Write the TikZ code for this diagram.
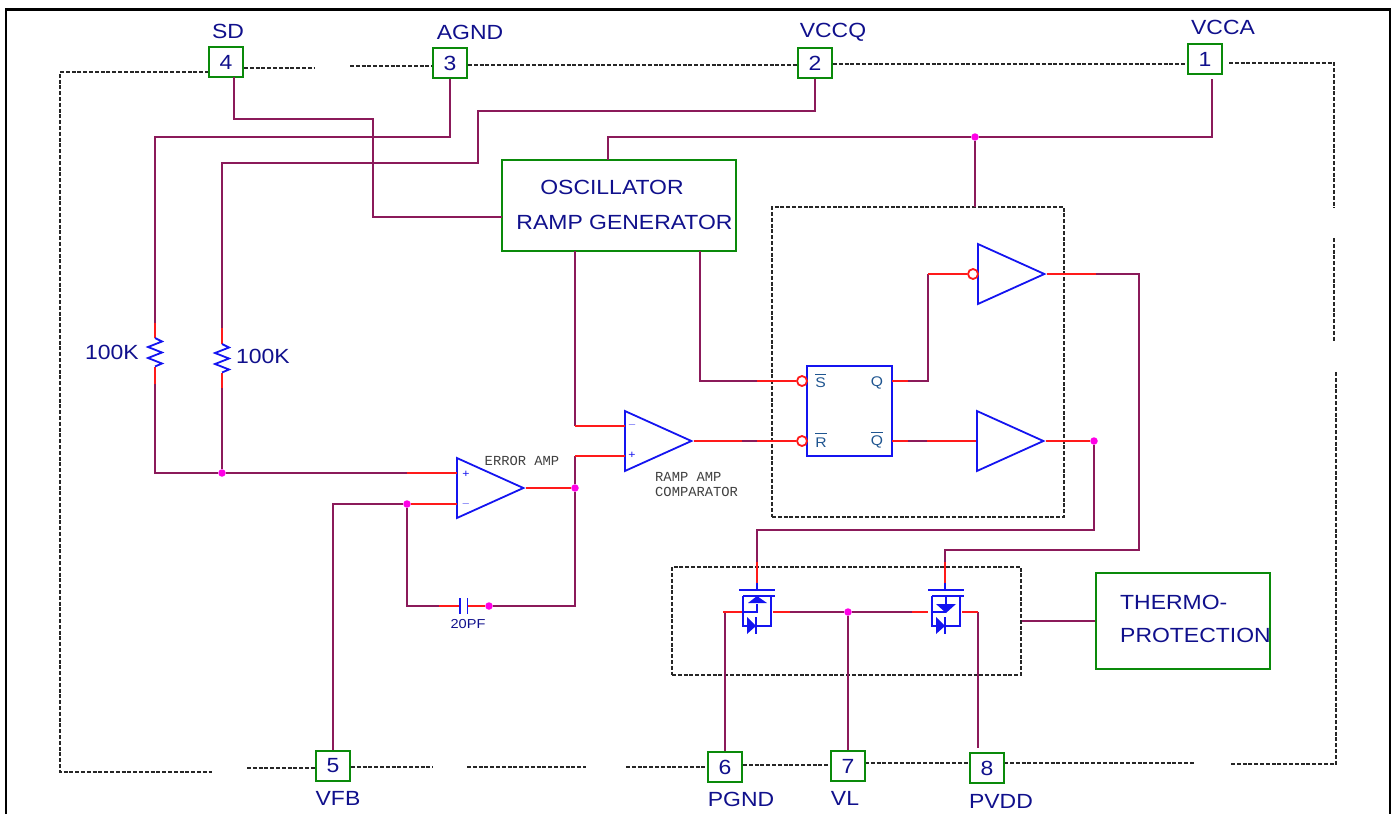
\documentclass[tikz,border=0pt]{standalone}
\usepackage{fontspec}
\usetikzlibrary{shapes.geometric}
\newfontfamily\labelfont[FakeStretch=1.12]{Liberation Sans}
\newfontfamily\notefont{Liberation Mono}
\definecolor{wirecol}{HTML}{8B1A5A}
\definecolor{stubcol}{HTML}{FF1A1A}
\definecolor{symcol}{HTML}{1414F0}
\definecolor{boxcol}{HTML}{0A8A0A}
\definecolor{navytext}{HTML}{10108C}
\definecolor{ffcol}{HTML}{1F5590}
\definecolor{dotcol}{HTML}{FF00E6}
\tikzset{
  wire/.style={draw=wirecol, line width=1.8pt},
  stub/.style={draw=stubcol, line width=1.8pt},
  fet/.style={draw=symcol, line width=1.8pt},
  outline/.style={draw=black!85, line width=1.4pt, dash pattern=on 4pt off 1.8pt},
  dashbox/.style={outline, rectangle, inner sep=0pt},
  pinbox/.style={rectangle, draw=boxcol, line width=1.8pt, fill=white, minimum width=34pt, minimum height=30pt, inner sep=0pt, text=navytext, font=\labelfont\fontsize{20.5}{24}\selectfont},
  blockbox/.style={rectangle, draw=boxcol, line width=1.8pt, inner sep=0pt},
  amptri/.style={isosceles triangle, isosceles triangle stretches, draw=symcol, line width=1.8pt, fill=white, inner sep=0pt, minimum width=60pt, minimum height=66.5pt, anchor=lower side},
  bubble/.style={circle, draw=stubcol, line width=1.8pt, fill=white, inner sep=0pt, minimum size=10pt},
  dot/.style={circle, fill=dotcol, inner sep=0pt, minimum size=7.5pt},
  lab/.style={text=navytext, inner sep=0pt, font=\labelfont\fontsize{20.5}{24}\selectfont},
  smallsym/.style={text=symcol, inner sep=0pt, font=\labelfont\fontsize{11}{13}\selectfont},
  fflab/.style={text=ffcol, inner sep=0pt, font=\labelfont\fontsize{14}{16}\selectfont},
  note/.style={text=black!75, inner sep=0pt, anchor=west, font=\notefont\fontsize{13.8}{15}\selectfont}
}
\begin{document}
\begin{tikzpicture}[x=1pt, y=-1pt]
\useasboundingbox (0,0) rectangle (1394,814);
\draw[line width=2.6pt] (6,814) -- (6,9.5) -- (1390,9.5) -- (1390,814);
% package outline
\draw[outline] (209,72) -- (60,72) -- (60,772) -- (212,772);
\draw[outline] (244,68) -- (314,68);
\draw[outline] (350,66) -- (433,66);
\draw[outline] (468,65) -- (798,65);
\draw[outline] (833,64) -- (1187,64);
\draw[outline] (1229,63) -- (1334,63) -- (1334,208);
\draw[outline] (1334,238) -- (1334,342);
\draw[outline] (1336,372) -- (1336,764) -- (1231,764);
\draw[outline] (247,768) -- (316,768);
\draw[outline] (351,767) -- (433,767);
\draw[outline] (467,767) -- (586,767);
\draw[outline] (626,767) -- (708,767);
\draw[outline] (743,765) -- (830,765);
\draw[outline] (865,763) -- (1194,763);
% pins
\node[pinbox] (pin4) at (226,62) {4};
\node[pinbox] (pin3) at (450,63) {3};
\node[pinbox] (pin2) at (815,63) {2};
\node[pinbox] (pin1) at (1205,59) {1};
\node[pinbox] (pin5) at (333,766) {5};
\node[pinbox] (pin6) at (725,767) {6};
\node[pinbox] (pin7) at (848,766) {7};
\node[pinbox] (pin8) at (987,768) {8};
\node[lab] (sdlab) at (228,31) {SD};
\node[lab] (agndlab) at (470,32) {AGND};
\node[lab] (vccqlab) at (833,32) {VCCQ};
\node[lab] (vccalab) at (1223,27) {VCCA};
\node[lab] (vfblab) at (338,798) {VFB};
\node[lab] (pgndlab) at (741,799) {PGND};
\node[lab] (vllab) at (845,798) {VL};
\node[lab] (pvddlab) at (1001,801) {PVDD};
% blocks
\node[blockbox, minimum width=234pt, minimum height=91pt] (osc) at (619,205.5) {};
\node[lab] (osclab) at (612,187) {OSCILLATOR};
\node[lab] (ramplab) at (624.5,222) {RAMP GENERATOR};
\node[blockbox, minimum width=174pt, minimum height=96pt] (thermo) at (1183,621) {};
\node[lab, anchor=west] (thermolab) at (1120,602) {THERMO-};
\node[lab, anchor=west] (protlab) at (1120,635) {PROTECTION};
\node[dashbox, minimum width=292pt, minimum height=310pt] (ctrlbox) at (918,362) {};
\node[dashbox, minimum width=349pt, minimum height=108pt] (fetbox) at (846.5,621) {};
\node[rectangle, draw=symcol, line width=1.8pt, minimum width=85pt, minimum height=90pt, inner sep=0pt] (ff) at (849.5,411) {};
\node[fflab] (slab) at (820.5,381) {$\overline{\hbox{S\rule{0pt}{12pt}}}$};
\node[fflab] (qlab) at (877,383) {Q};
\node[fflab] (rlab) at (821,440) {$\overline{\hbox{R\rule{0pt}{12pt}}}$};
\node[fflab] (qnlab) at (877,440) {$\overline{\hbox{Q\rule{0pt}{12pt}}}$};
\node[amptri] (eamp) at (456,488) {};
\node[amptri] (cmp) at (624,441) {};
\node[amptri] (hibuf) at (977,274) {};
\node[amptri] (lobuf) at (976,441) {};
\node[smallsym] (eaplus) at (466,474) {+};
\node[smallsym] (eaminus) at (466,504) {$-$};
\node[smallsym] (cmpminus) at (632,425) {$-$};
\node[smallsym] (cmpplus) at (632,455) {+};
\node[note, anchor=center] (ealab) at (522,461) {ERROR AMP};
\node[note] (cmplab) at (655,477) {RAMP AMP};
\node[note] (cmplabb) at (655,492) {COMPARATOR};
\node[lab, font=\labelfont\fontsize{13}{15}\selectfont] (caplab) at (468,624) {20PF};
\node[lab] (r1lab) at (112,352) {100K};
\node[lab] (r2lab) at (263,356) {100K};
\node[bubble] (sbub) at (802,381) {};
\node[bubble] (rbub) at (802,441) {};
\node[bubble] (hibub) at (973,274) {};
\node[dot] (vccdot) at (975,137) {};
\node[dot] (sumdot) at (222,473) {};
\node[dot] (fbdot) at (407,504) {};
\node[dot] (eadot) at (575,488) {};
\node[dot] (capdot) at (489,606) {};
\node[dot] (lsdot) at (1094,441) {};
\node[dot] (vldot) at (848,612) {};
% connection points
\coordinate (sdtop) at (234,77);
\coordinate (sdjog) at (373,119);
\coordinate (oscsd) at (502,217);
\coordinate (agndjog) at (155,137);
\coordinate (vqa) at (478,111);
\coordinate (vqb) at (222,163);
\coordinate (r1top) at (155,338);
\coordinate (r1bot) at (155,366.5);
\coordinate (r2top) at (222,344);
\coordinate (r2bot) at (222,372.5);
\coordinate (vcctop) at (1212,79);
\coordinate (oscfeed) at (608,160);
\coordinate (ctrlfeed) at (975,207);
\coordinate (oscramp) at (575,251);
\coordinate (cmpmb) at (575,426);
\coordinate (cmpm) at (625,426);
\coordinate (cmppb) at (575,456);
\coordinate (cmpp) at (625,456);
\coordinate (eap) at (457,473);
\coordinate (eam) at (457,504);
\coordinate (capl) at (460,606);
\coordinate (capr) at (467.5,606);
\coordinate (capw) at (439,606);
\coordinate (oscset) at (700,251);
\coordinate (sstub) at (757,381);
\coordinate (cmpw) at (742,441);
\coordinate (rstub) at (757,441);
\coordinate (qout) at (892,381);
\coordinate (qw) at (908,381);
\coordinate (qbend) at (928,274);
\coordinate (qnout) at (892,441);
\coordinate (qnw) at (908,441);
\coordinate (qnx) at (927,441);
\coordinate (hiw) at (1096,274);
\coordinate (hijog) at (1139,550);
\coordinate (higate) at (945,562);
\coordinate (logjog) at (757,530);
\coordinate (lsgate) at (757,562);
\coordinate (lssrc) at (725,612);
\coordinate (lsx) at (790,612);
\coordinate (hsx) at (912,612);
\coordinate (hsrc) at (978,612);
\coordinate (pvddend) at (978,748);
% wires
\draw[wire] (sdtop) |- (sdjog) |- (oscsd);
\draw[wire] (pin3.south) |- (agndjog) -- (r1top);
\draw[wire] (pin2.south) |- (vqa) |- (vqb) -- (r2top);
\draw[wire] (r1bot) |- (sumdot);
\draw[wire] (r2bot) -- (sumdot);
\draw[wire] (sumdot) -- (eap);
\draw[wire] (vcctop) |- (vccdot) -| (oscfeed);
\draw[wire] (vccdot) -- (ctrlfeed);
\draw[wire] (oscramp) -- (cmpmb);
\draw[wire] (eadot) -- (cmppb);
\draw[wire] (eadot) |- (capdot);
\draw[wire] (fbdot) |- (capw);
\draw[wire] (fbdot) -| (pin5.north);
\draw[wire] (oscset) |- (sstub);
\draw[wire] (cmpw) -- (rstub);
\draw[wire] (qw) -| (qbend);
\draw[wire] (qnw) -- (qnx);
\draw[wire] (hiw) -| (hijog) -| (higate);
\draw[wire] (lsdot) |- (logjog) -- (lsgate);
\draw[wire] (lssrc) -- (pin6.north);
\draw[wire] (lsx) -- (vldot);
\draw[wire] (vldot) -- (hsx);
\draw[wire] (vldot) -- (pin7.north);
\draw[wire] (hsrc) -- (pvddend);
\draw[wire] (fetbox.east) -- (thermo.west);
% red ends of the wires
\draw[stub] (r1top) -- ++(0,-15);
\draw[stub] (r1bot) -- ++(0,17);
\draw[stub] (r2top) -- ++(0,-16);
\draw[stub] (r2bot) -- ++(0,15);
\draw[stub] (eap) -- ++(-50,0);
\draw[stub] (fbdot) -- (eam);
\draw[stub] (cmpmb) -- (cmpm);
\draw[stub] (cmppb) -- (cmpp);
\draw[stub] (eamp.apex) -- (eadot);
\draw[stub] (capw) -- (capl);
\draw[stub] (capr) -- (capdot);
\draw[stub] (cmp.apex) -- (cmpw);
\draw[stub] (rstub) -- (rbub);
\draw[stub] (sstub) -- (sbub);
\draw[stub] (qout) -- (qw);
\draw[stub] (qbend) -- (hibub);
\draw[stub] (qnout) -- (qnw);
\draw[stub] (qnx) -- (lobuf.lower side);
\draw[stub] (hibuf.apex) -- (hiw);
\draw[stub] (lobuf.apex) -- (lsdot);
\draw[stub] (lsgate) -- ++(0,21);
\draw[stub] (higate) -- ++(0,21);
\draw[stub] (lssrc) -- ++(-2,0) -- ++(19,0);
\draw[stub] (lsx) -- ++(-17,0);
\draw[stub] (hsx) -- ++(16,0);
\draw[stub] (hsrc) -- ++(-16,0);
% resistors and capacitor
\draw[fet] (r1top) -- ++(7,3.5) -- ++(-14,5.5) -- ++(14,5.5) -- ++(-14,5.5) -- ++(14,5.5) -- ++(-7,3);
\draw[fet] (r2top) -- ++(7,3.5) -- ++(-14,5.5) -- ++(14,5.5) -- ++(-14,5.5) -- ++(14,5.5) -- ++(-7,3);
\draw[fet] (460,598) -- (460,614);
\draw[fet] (467.5,598) -- (467.5,614);
% low side switch
\begin{scope}[shift={(757,612)}]
\draw[fet] (0,-29) -- (0,-22);
\draw[fet] (-18,-22) -- (18,-22);
\draw[fet] (-14,-16) -- (18,-16);
\draw[fet] (14,-16) -- (14,14) -- (-14,14) -- (-14,-16);
\draw[fet] (-14,0) -- (0,0) -- (0,-8);
\fill[symcol] (-9,-9) -- (10,-9) -- (0,-16) -- cycle;
\fill[symcol] (-10,5) -- (-10,22) -- (-1,14) -- cycle;
\draw[fet] (-1,5) -- (-1,22);
\end{scope}
% high side switch
\begin{scope}[shift={(946,612)}]
\draw[fet] (-1,-29) -- (-1,-22);
\draw[fet] (-18,-22) -- (18,-22);
\draw[fet] (-14,-16) -- (18,-16);
\draw[fet] (14,-16) -- (14,14) -- (-14,14) -- (-14,-16);
\draw[fet] (-14,0) -- (0,0);
\draw[fet] (0,-16) -- (0,-8);
\fill[symcol] (-10,-8) -- (10,-8) -- (0,1) -- cycle;
\fill[symcol] (-10,5) -- (-10,22) -- (-1,14) -- cycle;
\draw[fet] (-1,5) -- (-1,22);
\end{scope}
\end{tikzpicture}
\end{document}
